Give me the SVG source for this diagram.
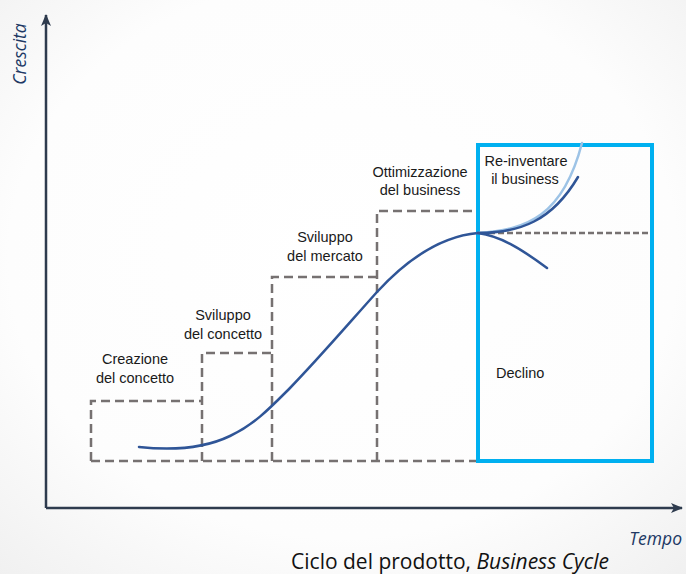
<svg xmlns="http://www.w3.org/2000/svg" width="686" height="574" viewBox="0 0 686 574">
<defs>
<radialGradient id="bg" cx="50%" cy="45%" r="75%">
<stop offset="0" stop-color="#ffffff"/>
<stop offset="0.65" stop-color="#fdfdfd"/>
<stop offset="1" stop-color="#f0f0f0"/>
</radialGradient>
<marker id="arr" viewBox="0 0 12 10" refX="11" refY="5" markerWidth="12" markerHeight="10" markerUnits="userSpaceOnUse" orient="auto">
<path d="M0,0 L12,5 L0,10 L3,5 Z" fill="#2e3b4e"/>
</marker>
<style>
.axis{stroke:#2e3b4e;stroke-width:2.5;fill:none}
.dash{stroke:#767171;stroke-width:2.5;fill:none;stroke-dasharray:9 5}
.curve{stroke:#2f5597;stroke-width:2.5;fill:none;stroke-linecap:round}
.light{stroke:#9dc3e6;stroke-width:2.5;fill:none;stroke-linecap:round}
.lbl{font-family:"Liberation Sans",Arial,sans-serif;font-size:14.5px;fill:#1a1a1a;text-anchor:middle}
.ax{font-family:"Open Sans","Liberation Sans",sans-serif;font-size:17.5px;font-style:italic;fill:#203864}
.cap{font-family:"Open Sans","Liberation Sans",sans-serif;font-size:21px;fill:#111}
</style>
</defs>
<rect width="686" height="574" fill="url(#bg)"/>
<g id="axes">
<path class="axis" d="M46,508 L46,15" marker-end="url(#arr)"/>
<path class="axis" d="M46,508 L682,508" marker-end="url(#arr)"/>
<text class="ax" transform="translate(26,54) rotate(-90)" text-anchor="middle">Crescita</text>
<text class="ax" x="682" y="545" text-anchor="end">Tempo</text>
</g>
<g id="box-creazione">
<path class="dash" d="M91,461 L91,401 L202,401"/>
<text class="lbl" x="135" y="364">Creazione</text>
<text class="lbl" x="135" y="383">del concetto</text>
</g>
<g id="box-sviluppo-concetto">
<path class="dash" d="M202,461 L202,353 L272,353"/>
<text class="lbl" x="223" y="320">Sviluppo</text>
<text class="lbl" x="223" y="339">del concetto</text>
</g>
<g id="box-sviluppo-mercato">
<path class="dash" d="M272,461 L272,277 L377,277"/>
<text class="lbl" x="325" y="242">Sviluppo</text>
<text class="lbl" x="325" y="261">del mercato</text>
</g>
<g id="box-ottimizzazione">
<path class="dash" d="M377,461 L377,211 L478,211"/>
<path class="dash" d="M91,461 L478,461"/>
<text class="lbl" x="420" y="177">Ottimizzazione</text>
<text class="lbl" x="420" y="195">del business</text>
</g>
<g id="box-declino">
<path class="dash" d="M480,233 L651,233" style="stroke-dasharray:6 3"/>
<rect x="478" y="145" width="174" height="316" fill="none" stroke="#00b0f0" stroke-width="4"/>
<text class="lbl" x="526" y="166">Re-inventare</text>
<text class="lbl" x="525" y="184">il business</text>
<text class="lbl" x="496" y="378" style="text-anchor:start">Declino</text>
</g>
<g id="connectors">
<path class="curve" d="M139,447 C175,451 205,448 230,436 C255,424 270,408 290,388 C320,357 350,322 377,292 C410,256 445,236 478,233"/>
<path class="light" d="M478,233 C527,230 563,216 582,143"/>
<path class="curve" d="M478,233 C520,233 552,221 578,177"/>
<path class="curve" d="M478,233 C500,236 520,248 547,268"/>
</g>
<text class="cap" x="450" y="569" text-anchor="middle">Ciclo del prodotto, <tspan font-style="italic">Business Cycle</tspan></text>
</svg>
